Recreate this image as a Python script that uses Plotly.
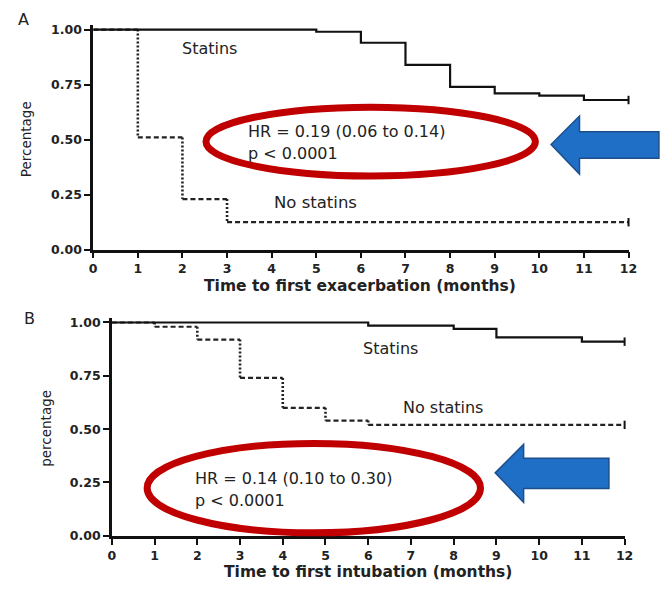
import plotly.graph_objects as go

# ---------------- data ----------------
months_ticks = list(range(0, 13))
y_ticks = [0.0, 0.25, 0.5, 0.75, 1.0]
y_tick_labels = ["0.00", "0.25", "0.50", "0.75", "1.00"]

# Panel A: time to first exacerbation
a_statins_t = [0, 5, 6, 7, 8, 9, 10, 11, 12]
a_statins_s = [1.0, 0.99, 0.94, 0.84, 0.74, 0.71, 0.70, 0.68, 0.68]
a_nostat_t = [0, 1, 2, 3, 12]
a_nostat_s = [1.0, 0.51, 0.23, 0.125, 0.125]

# Panel B: time to first intubation
b_statins_t = [0, 6, 8, 9, 11, 12]
b_statins_s = [1.0, 0.985, 0.97, 0.93, 0.91, 0.91]
b_nostat_t = [0, 1, 2, 3, 4, 5, 6, 12]
b_nostat_s = [1.0, 0.98, 0.92, 0.74, 0.60, 0.54, 0.52, 0.52]

W, H = 664, 589
FONT = "DejaVu Sans, Liberation Sans, Arial, sans-serif"
YTOP = 1.02

def px(x):
    return x / W

def py(y):
    return 1 - y / H

fig = go.Figure()

def step_parts(t, s):
    hx, hy, vx, vy = [], [], [], []
    for i in range(len(t) - 1):
        hx += [t[i], t[i + 1], None]
        hy += [s[i], s[i], None]
        vx += [t[i + 1], t[i + 1], None]
        vy += [s[i], s[i + 1], None]
    return hx, hy, vx, vy

def add_panel(xa, ya, st_t, st_s, ns_t, ns_s):
    hx, hy, vx, vy = step_parts(ns_t, ns_s)
    fig.add_trace(go.Scatter(x=hx, y=hy, mode="lines",
                             line=dict(color="#222", width=2.2, dash="5px,3px"),
                             xaxis=xa, yaxis=ya, cliponaxis=False, showlegend=False))
    fig.add_trace(go.Scatter(x=vx, y=vy, mode="lines",
                             line=dict(color="#222", width=2.6, dash="2px,2px"),
                             xaxis=xa, yaxis=ya, cliponaxis=False, showlegend=False))
    fig.add_trace(go.Scatter(x=st_t, y=st_s, mode="lines", line_shape="hv",
                             line=dict(color="#111", width=2.2),
                             xaxis=xa, yaxis=ya, cliponaxis=False, showlegend=False))
    # censor marks at end
    fig.add_trace(go.Scatter(x=[st_t[-1], ns_t[-1]], y=[st_s[-1], ns_s[-1]], mode="markers",
                             marker=dict(symbol="line-ns", size=6, line=dict(color="#111", width=2)),
                             xaxis=xa, yaxis=ya, cliponaxis=False, showlegend=False))

add_panel("x", "y", a_statins_t, a_statins_s, a_nostat_t, a_nostat_s)
add_panel("x2", "y2", b_statins_t, b_statins_s, b_nostat_t, b_nostat_s)

axis_common = dict(showgrid=False, zeroline=False, showline=True, linecolor="#111",
                   linewidth=2.5, ticks="outside", ticklen=6, tickwidth=2,
                   tickcolor="#111", tickfont=dict(family=FONT, size=12.5, color="#222"))

xt = [f"<b>{m}</b>" for m in months_ticks]
yt = [f"<b>{s}</b>" for s in y_tick_labels]

def ydom(top_px, bot_px):
    unit = (bot_px - top_px)
    top_ext = top_px - unit * (YTOP - 1.0)
    return [py(bot_px), py(top_ext)]

fig.update_layout(
    width=W, height=H, margin=dict(l=0, r=0, t=0, b=0),
    paper_bgcolor="white", plot_bgcolor="white",
    xaxis=dict(domain=[px(91), px(637)], range=[0, 12], tickvals=months_ticks,
               ticktext=xt, anchor="y", **axis_common),
    yaxis=dict(domain=ydom(27, 251), range=[0, YTOP], tickvals=y_ticks,
               ticktext=yt, anchor="x", **axis_common),
    xaxis2=dict(domain=[px(110), px(633)], range=[0, 12], tickvals=months_ticks,
                ticktext=xt, anchor="y2", **axis_common),
    yaxis2=dict(domain=ydom(325, 542), range=[0, YTOP], tickvals=y_ticks,
                ticktext=yt, anchor="x2", **axis_common),
)

red = "#c00000"
# ellipses
fig.add_shape(type="circle", xref="paper", yref="paper",
              x0=px(206), x1=px(542), y0=py(176), y1=py(106),
              line=dict(color=red, width=7), fillcolor="rgba(0,0,0,0)")
fig.add_shape(type="circle", xref="paper", yref="paper",
              x0=px(146), x1=px(486), y0=py(539), y1=py(448),
              line=dict(color=red, width=7), fillcolor="rgba(0,0,0,0)")

def arrow_path(tip_x, tip_y, head_back, head_top, head_bot, body_top, body_bot, body_end):
    pts = [(tip_x, tip_y), (head_back, head_top), (head_back, body_top), (body_end, body_top),
           (body_end, body_bot), (head_back, body_bot), (head_back, head_bot)]
    s = "M " + " L ".join(f"{px(x):.5f},{py(y):.5f}" for x, y in pts) + " Z"
    return s

blue = "#1f6fc6"
fig.add_shape(type="path", xref="paper", yref="paper",
              path=arrow_path(558, 144, 587, 115, 174, 131, 158, 668),
              fillcolor=blue, line=dict(color="#1c4f8c", width=1.5))
fig.add_shape(type="path", xref="paper", yref="paper",
              path=arrow_path(501, 478, 530, 449, 508, 463, 494, 617),
              fillcolor=blue, line=dict(color="#1c4f8c", width=1.5))

def txt(x, y, s, size=13, xanchor="left", angle=0, color="#222"):
    fig.add_annotation(x=px(x), y=py(y), xref="paper", yref="paper", text=s,
                       showarrow=False, xanchor=xanchor, yanchor="middle", textangle=angle,
                       font=dict(family=FONT, size=size, color=color))

# panel letters
txt(12, 17, "A", size=16)
txt(18, 321, "B", size=16)

# panel A text
txt(180, 46, "Statins", size=16)
txt(273, 203, "No statins", size=16.5)
txt(247, 131, "HR = 0.19 (0.06 to 0.14)", size=16)
txt(247, 153, "p &lt; 0.0001", size=16)
txt(363, 288, "<b>Time to first exacerbation (months)</b>", size=15.5, xanchor="center")
txt(22, 139, "Percentage", size=13.5, xanchor="center", angle=-90)

# panel B text
txt(364, 351, "Statins", size=16)
txt(405, 411, "No statins", size=16)
txt(193, 484, "HR = 0.14 (0.10 to 0.30)", size=16)
txt(193, 506, "p &lt; 0.0001", size=16)
txt(371, 579, "<b>Time to first intubation (months)</b>", size=15.5, xanchor="center")
txt(42, 433, "percentage", size=13.5, xanchor="center", angle=-90)

fig.write_html("out.html")
